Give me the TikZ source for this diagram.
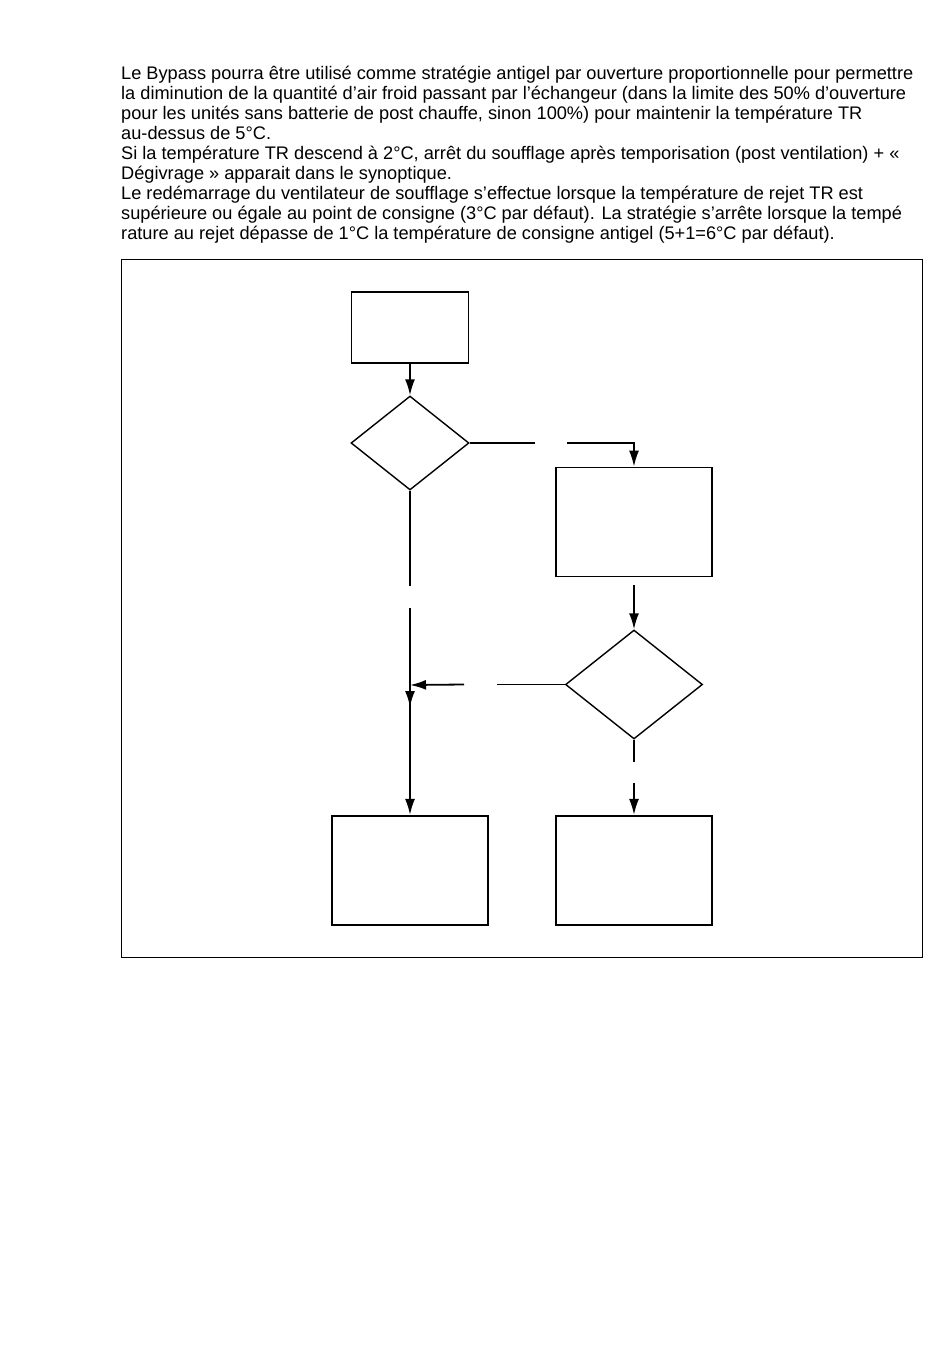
\documentclass[tikz,border=0pt]{standalone}
\usepackage{fontspec}
\setmainfont{Liberation Sans}
\usetikzlibrary{arrows.meta,shapes.geometric}
\begin{document}
\begin{tikzpicture}[x=1pt,y=-1pt,
  txt/.style={anchor=base west,inner sep=0pt,font=\fontsize{18.2}{20}\selectfont},
  box/.style={draw,line width=1.8pt,inner sep=0pt},
  dia/.style={draw,diamond,line width=1.4pt,inner sep=0pt},
  conn/.style={line width=1.8pt},
  >={Latex[length=16pt,width=10pt]}]
\useasboundingbox (0,0) rectangle (950,1360);
\fill[white] (0,0) rectangle (950,1360);
% text
\node[txt] (l1) at (121,79.5) {Le Bypass pourra être utilisé comme stratégie antigel par ouverture proportionnelle pour permettre};
\node[txt] (l2) at (121,99.5) {la diminution de la quantité d’air froid passant par l’échangeur (dans la limite des 50\% d’ouverture};
\node[txt] (l3) at (121,119.5) {pour les unités sans batterie de post chauffe, sinon 100\%) pour maintenir la température TR};
\node[txt] (l4) at (121,139.5) {au-dessus de 5°C.};
\node[txt] (l5) at (121,159.5) {Si la température TR descend à 2°C, arrêt du soufflage après temporisation (post ventilation) + «};
\node[txt] (l6) at (121,179.5) {Dégivrage » apparait dans le synoptique.};
\node[txt] (l7) at (121,199.5) {Le redémarrage du ventilateur de soufflage s’effectue lorsque la température de rejet TR est};
\node[txt] (l8) at (121,219.5) {supérieure ou égale au point de consigne (3°C par défaut). La stratégie s’arrête lorsque la tempé};
\node[txt] (l9) at (121,239.5) {rature au rejet dépasse de 1°C la température de consigne antigel (5+1=6°C par défaut).};
% frame
\node[draw,line width=0.9pt,inner sep=0pt,minimum width=801pt,minimum height=698pt] (frame) at (521.5,608) {};
% shapes
\node[box,minimum width=117pt,minimum height=71pt] (b1) at (410,327.5) {};
\node[dia,minimum width=118pt,minimum height=94pt] (d1) at (410,443) {};
\node[box,minimum width=155.5pt,minimum height=109pt] (b2) at (634,522) {};
\node[dia,minimum width=137pt,minimum height=109pt] (d2) at (634,684.5) {};
\node[box,minimum width=156pt,minimum height=109.5pt] (b3) at (410,870.5) {};
\node[box,minimum width=155.5pt,minimum height=109.5pt] (b4) at (634,870.5) {};
% coordinates for gaps
\coordinate (g1a) at (535,443);
\coordinate (g1b) at (567,443);
\coordinate (g2a) at (410,586);
\coordinate (g2b) at (410,608);
\coordinate (m) at (410,707);
\coordinate (j) at (410,685);
\coordinate (g3) at (634,585);
\coordinate (g4a) at (497,684.5);
\coordinate (g4b) at (464,684.5);
\coordinate (g5a) at (634,762);
\coordinate (g5b) at (634,783);
% connectors
\draw[conn,->] (b1.south) -- (d1.north);
\draw[conn] (d1.east) -- (g1a);
\draw[conn,->] (g1b) -| (b2.north);
\draw[conn] (d1.south) -- (g2a);
\draw[conn,->] (g2b) -- (b3.north);
\draw[conn,->] (g2b) -- (m);
\draw[conn,->] (g3) -- (d2.north);
\draw[conn] (d2.west) -- (g4a);
\draw[conn,->] (g4b) -- (j);
\draw[conn] (d2.south) -- (g5a);
\draw[conn,->] (g5b) -- (b4.north);
\end{tikzpicture}
\end{document}
